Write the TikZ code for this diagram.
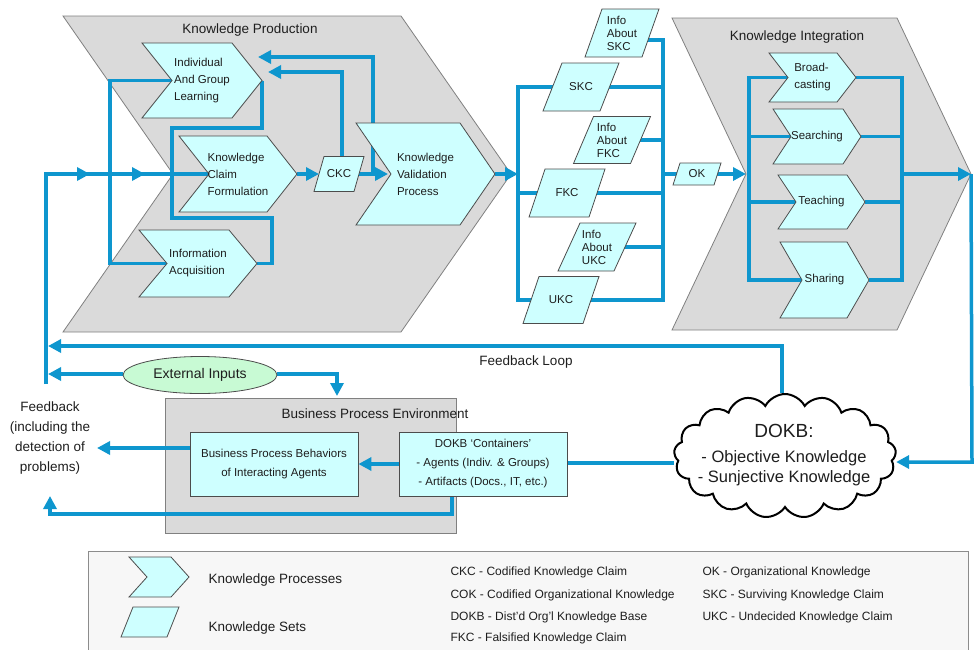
\documentclass[tikz,border=0pt]{standalone}
\usepackage{fontspec}
\setmainfont{Liberation Sans}
\usetikzlibrary{arrows.meta,shapes.geometric,shapes.symbols,decorations.markings}

\definecolor{kblue}{RGB}{14,150,206}
\definecolor{kcyan}{RGB}{206,255,255}
\definecolor{kgray}{RGB}{218,218,218}
\definecolor{kgreen}{RGB}{200,250,212}
\definecolor{ktext}{RGB}{30,30,30}

\pgfdeclarelayer{bg}
\pgfdeclarelayer{wires}
\pgfsetlayers{bg,wires,main}

\tikzset{
  kstage/.style={draw=black!50, fill=kgray, line width=0.8pt},
  kproc/.style={draw=black!70, fill=kcyan, line width=0.8pt},
  kset/.style={draw=black!70, fill=kcyan, line width=0.8pt},
  wire/.style={draw=kblue, color=kblue, line width=3.5pt},
  >={Triangle[length=13pt,width=13pt]},
  warrow/.style={wire, ->},
  ttext/.style={font=\fontsize{13.5}{16}\selectfont, text=ktext},
  ptext/.style={font=\fontsize{11.5}{17}\selectfont, align=left, text=ktext, inner sep=0pt},
  stext/.style={font=\fontsize{11.5}{13}\selectfont, align=left, text=ktext, inner sep=0pt},
  bpbox/.style={draw=black!70, fill=kcyan, line width=0.8pt, minimum width=168pt, minimum height=64pt,
    font=\fontsize{11.5}{19}\selectfont, align=center, text=ktext},
  abtext/.style={font=\fontsize{12}{14}\selectfont, anchor=west, text=ktext},
}

% chevron: name, left x, top y, right x, bottom y, depth, text
\newcommand{\kproc}[7]{%
  \filldraw[kproc] (#2,#3) -- (#4,#3) -- ({#4+#6},{(#3+#5)/2}) -- (#4,#5) -- (#2,#5) -- ({#2+#6},{(#3+#5)/2}) -- cycle;
  \coordinate (#1-tip) at ({#4+#6},{(#3+#5)/2});
  \coordinate (#1-notch) at ({#2+#6},{(#3+#5)/2});
  \node[ptext] (#1) at ({(#2+#4+#6)/2},{(#3+#5)/2}) {#7};
}
% parallelogram: name, centre x, centre y, width, height, slant, text
\newcommand{\kset}[7]{%
  \filldraw[kset] ({#2-#4/2+#6/2},{#3-#5/2}) -- ({#2+#4/2+#6/2},{#3-#5/2}) -- ({#2+#4/2-#6/2},{#3+#5/2}) -- ({#2-#4/2-#6/2},{#3+#5/2}) -- cycle;
  \node[stext] (#1) at (#2,#3) {#7};
}

\begin{document}
\begin{tikzpicture}[x=1pt,y=-1pt]

    \useasboundingbox (0,0) rectangle (974,649);

    % Draw the stages
    \begin{pgfonlayer}{bg}
    \filldraw[kstage] (63,16) -- (401,16) -- (511,174) -- (401,332) -- (63,332) -- (173,174) -- cycle;
    \filldraw[kstage] (672,18) -- (897,18) -- (971,174) -- (897,330) -- (672,330) -- (746,174) -- cycle;
    \node[draw=black!50, fill=kgray, line width=0.8pt, minimum width=291pt, minimum height=135pt] (bpe) at (310.5,465.5) {};
    \filldraw[draw=black!45, fill=black!3, line width=0.8pt] (88,551) rectangle (968,665);
    \end{pgfonlayer}
    \node[ttext] (kprod) at (250,30) {Knowledge Production};
    \node[ttext] (kint) at (797,37) {Knowledge Integration};
    \node[ttext] (bpetitle) at (375,414) {Business Process Environment};
    \coordinate (kinotch) at (746,174);
    \coordinate (kitip) at (971,174);

    % Knowledge processes
    \kproc{iagl}{142}{43}{232}{118}{30}{Individual\\And Group\\Learning}
    \kproc{kcf}{179}{136}{267}{212}{30}{Knowledge\\Claim\\Formulation}
    \kproc{ia}{139}{230}{229}{297}{28}{Information\\Acquisition}
    \kproc{kvp}{356}{123}{460}{225}{35}{Knowledge\\Validation\\Process}
    \kproc{brc}{769}{53}{837}{102}{19}{Broad-\\casting}
    \kproc{srch}{773}{109}{843}{164}{18}{Searching}
    \kproc{tchg}{778}{175}{847}{229}{18}{Teaching}
    \kproc{shrg}{780}{242}{847}{318}{22}{Sharing}

    % Knowledge sets
    \kset{ckc}{339}{174}{40}{35}{10}{CKC}
    \kset{iskc}{622}{33}{57}{48}{17}{Info\\About\\SKC}
    \kset{skc}{581}{87}{57}{48}{19}{SKC}
    \kset{ifkc}{612}{140}{57}{47}{20}{Info\\About\\FKC}
    \kset{fkc}{567}{193}{60}{48}{16}{FKC}
    \kset{iukc}{597}{247}{56}{48}{22}{Info\\About\\UKC}
    \kset{ukc}{561}{300}{60}{47}{16}{UKC}
    \kset{ok}{697}{174}{41}{22}{7}{OK}

    % DOKB and business process environment
    \node[cloud, draw=black, fill=white, line width=2pt, cloud puffs=17, cloud puff arc=125,
      minimum width=222pt, minimum height=124pt, aspect=1.8] (dokb) at (785,456) {};
    \node[align=center, text=ktext, font=\fontsize{16.5}{20}\selectfont] (dokbtxt) at (784,455)
      {{\fontsize{19}{22}\selectfont DOKB:}\\[5pt]- Objective Knowledge\\- Sunjective Knowledge};
    \node[ellipse, draw=black!70, fill=kgreen, line width=0.8pt, minimum width=154pt, minimum height=37pt,
      font=\fontsize{14}{16}\selectfont, text=ktext] (extin) at (200,375) {External Inputs};
    \node[bpbox] (bpb) at (274,464) {Business Process Behaviors\\of Interacting Agents};
    \node[bpbox] (dcont) at (483,464) {DOKB `Containers'\\- Agents (Indiv. \& Groups)\\- Artifacts (Docs., IT, etc.)};
    \node[ttext, align=center, font=\fontsize{13.5}{20}\selectfont] (fbtxt) at (50,438)
      {Feedback\\(including the\\detection of\\problems)};
    \node[ttext] (fbl) at (526,362) {Feedback Loop};

    % Connectors
    \begin{pgfonlayer}{wires}
    \coordinate (fbbot) at (46,384);
    \coordinate (fbtop) at (46,174);
    \draw[wire, postaction={decorate}, decoration={markings,
        mark=at position 254pt with {\arrow{>}}, mark=at position 309pt with {\arrow{>}}}]
      (fbbot) -- (fbtop) -- (kcf-notch);
    \coordinate (dbus) at (110,0);
    \draw[wire] (iagl-notch) -- (iagl-notch -| dbus) -- (ia-notch -| dbus) -- (ia-notch);
    \coordinate (brkA) at (172,128);
    \coordinate (brkB) at (172,218);
    \coordinate (brkC) at (272,218);
    \draw[wire] (iagl-tip) |- (brkA) -- (brkB) -- (brkC) |- (ia-tip);
    \draw[warrow] (kcf-tip) -- ([xshift=-20pt]ckc.center);
    \draw[warrow] ([xshift=16pt]ckc.center) -- ([xshift=-3pt]kvp-notch);
    \coordinate (ckcfb) at (268,72);
    \draw[warrow] ([xshift=3pt]ckc.center) |- (ckcfb);
    \coordinate (kvpup) at (373,174);
    \coordinate (kvpfb) at (258,57);
    \draw[warrow] (kvpup) |- (kvpfb);

    % set buses
    \coordinate (lbus) at (518,0);
    \coordinate (rbus) at (663,0);
    \draw[warrow] (kvp-tip) -- (kvp-tip -| lbus);
    \draw[wire] (skc.center) -- (skc.center -| lbus) -- (ukc.center -| lbus) -- (ukc.center);
    \draw[wire] (fkc.center -| lbus) -- (fkc.center);
    \draw[wire] ([yshift=-7pt]iskc.center) -- ([yshift=-7pt]iskc.center -| rbus) -- (ukc.center -| rbus) -- (ukc.center);
    \foreach \s in {skc,ifkc,fkc,iukc}
      \draw[wire] (\s.center) -- (\s.center -| rbus);
    \draw[warrow] (ok.center -| rbus) -- (kinotch);

    % integration buses
    \coordinate (ilbus) at (749,0);
    \coordinate (irbus) at (902,0);
    \draw[wire] (brc-notch) -- (brc-notch -| ilbus) -- (shrg-notch -| ilbus) -- (shrg-notch);
    \draw[wire] (brc-tip) -- (brc-tip -| irbus) -- (shrg-tip -| irbus) -- (shrg-tip);
    \foreach \p in {srch,tchg} {
      \draw[wire] (\p-notch -| ilbus) -- (\p-notch);
      \draw[wire] (\p-tip) -- (\p-tip -| irbus);
    }
    \draw[warrow] (kitip -| irbus) -- (kitip);
    \coordinate (dkin) at (972,462);
    \draw[warrow] (kitip) -- (dkin) -- (dkin -| dokb.east);

    % feedback
    \coordinate (fbloop) at (48,346);
    \draw[warrow] ([xshift=-3pt]dokb.north) |- (fbloop);
    \draw[warrow] ([yshift=1pt]extin.west) -- ([yshift=1pt]extin.west -| fbloop);
    \coordinate (bpein) at (337,396);
    \draw[warrow] ([yshift=1pt]extin.east) -| (bpein);
    \draw[warrow] (dcont.west) -- (bpb.east);
    \draw[wire] ([yshift=1pt]dcont.east) -- ([yshift=1pt]dcont.east -| dokb.west);
    \coordinate (fbout) at (97,448);
    \draw[warrow] (bpb.west |- fbout) -- (fbout);
    \coordinate (fbret) at (50,514);
    \coordinate (fbup) at (50,496);
    \draw[warrow] ([xshift=-31pt]dcont.south) |- (fbret) -- (fbup);
    \end{pgfonlayer}

    % Legend
    \kproc{lgp}{129}{557}{171}{597}{18}{}
    \kset{lgs}{150}{622}{46}{30}{12}{}
    \node[ttext, anchor=west] (lgptxt) at (205,580) {Knowledge Processes};
    \node[ttext, anchor=west] (lgstxt) at (205,628) {Knowledge Sets};
    \node[abtext] (ab1) at (447,572) {CKC - Codified Knowledge Claim};
    \node[abtext] (ab2) at (447,595) {COK - Codified Organizational Knowledge};
    \node[abtext] (ab3) at (447,617) {DOKB - Dist'd Org'l Knowledge Base};
    \node[abtext] (ab4) at (447,638) {FKC - Falsified Knowledge Claim};
    \node[abtext] (ab5) at (699,572) {OK - Organizational Knowledge};
    \node[abtext] (ab6) at (699,595) {SKC - Surviving Knowledge Claim};
    \node[abtext] (ab7) at (699,617) {UKC - Undecided Knowledge Claim};

\end{tikzpicture}
\end{document}
